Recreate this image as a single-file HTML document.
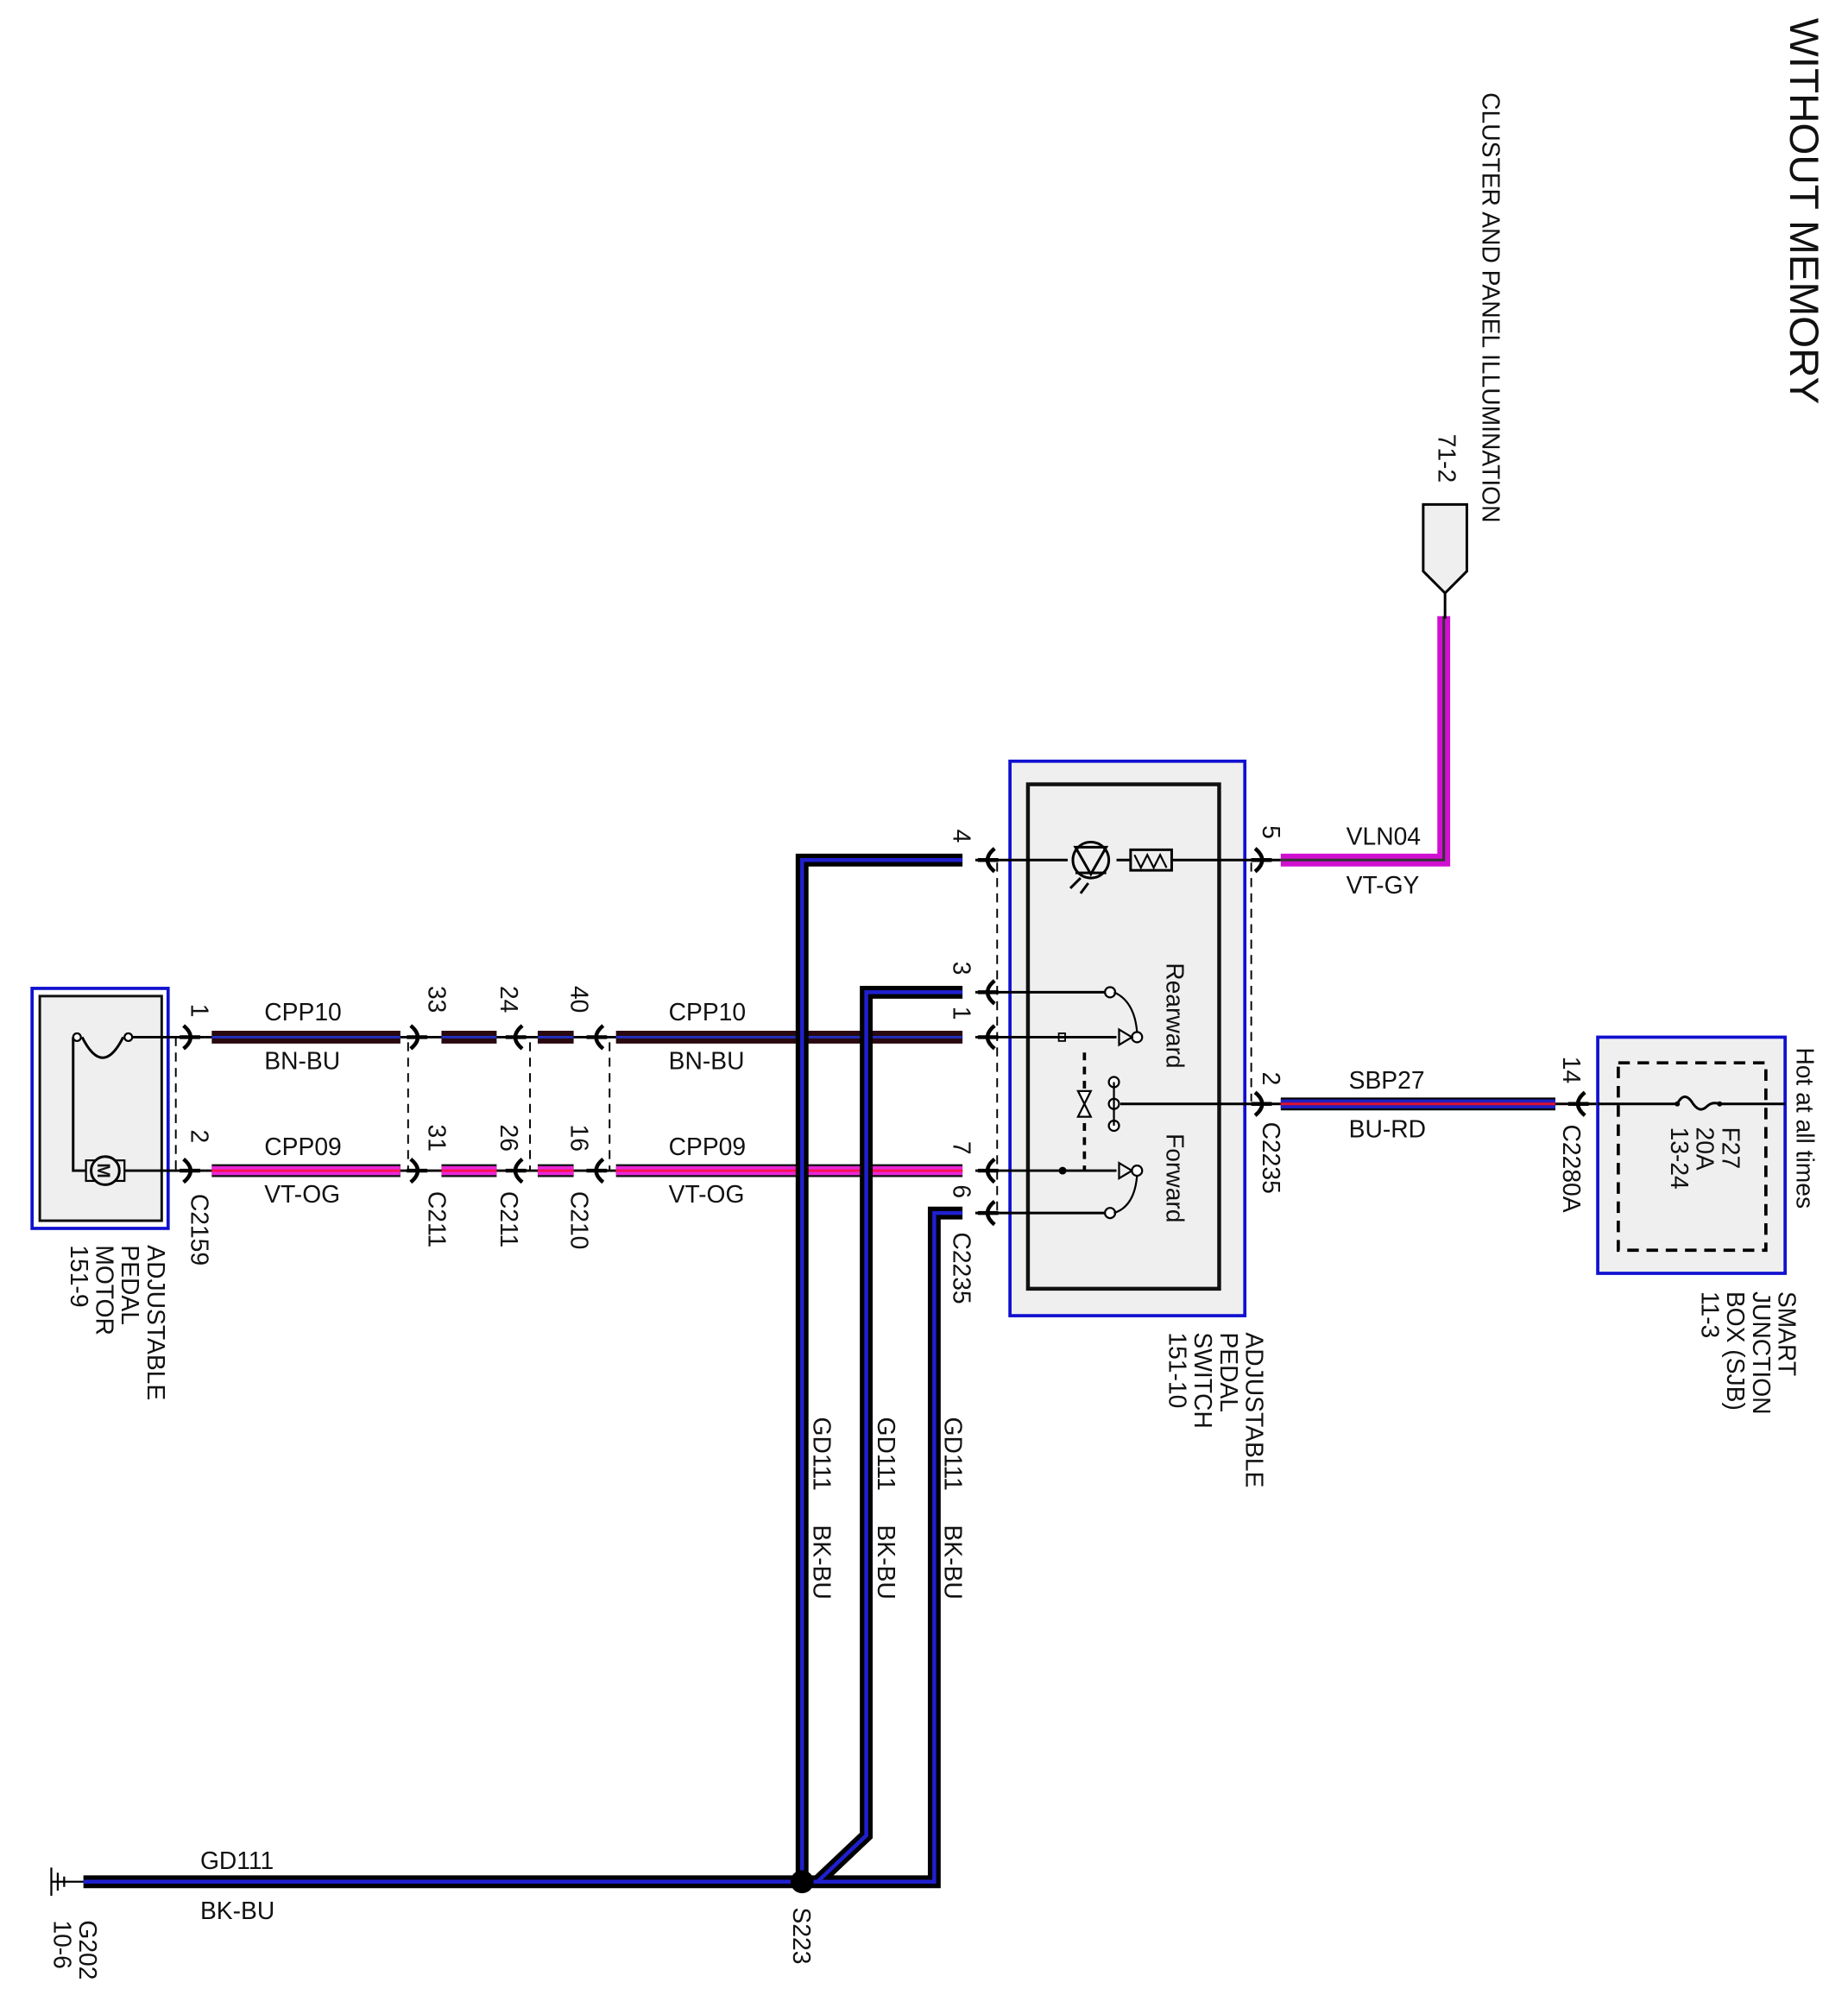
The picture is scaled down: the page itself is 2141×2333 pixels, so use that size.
<!DOCTYPE html>
<html><head><meta charset="utf-8"><style>
html,body{margin:0;padding:0;background:#fff}
svg{display:block}
text{font-family:"Liberation Sans",Arial,sans-serif;fill:#111}
</style></head><body>
<svg width="2141" height="2333" viewBox="0 0 1440 1569" xmlns="http://www.w3.org/2000/svg">
<defs>
<g id="chR"><path d="M-7,-9 Q4,0 -7,9 M-10,0 L6,0" fill="none" stroke="#000" stroke-width="3"/></g>
<g id="chL"><path d="M7,-9 Q-4,0 7,9 M10,0 L-6,0" fill="none" stroke="#000" stroke-width="3"/></g>
</defs>
<rect width="1440" height="1569" fill="#fff"/>

<rect x="25" y="770" width="106" height="187" fill="none" stroke="#1010d0" stroke-width="2.5"/>
<rect x="31" y="776" width="95" height="175" fill="#efefef" stroke="#111" stroke-width="2"/>
<path d="M64,808 Q80,840 96,808" fill="none" stroke="#000" stroke-width="2"/>
<circle cx="60" cy="808" r="3" fill="#fff" stroke="#000" stroke-width="1.5"/>
<circle cx="100" cy="808" r="3" fill="#fff" stroke="#000" stroke-width="1.5"/>
<path d="M57,808 V912 H68 M103,808 H160 M96,912 H160" fill="none" stroke="#000" stroke-width="2"/>
<rect x="67" y="904" width="30" height="16" fill="#efefef" stroke="#000" stroke-width="1.5"/>
<circle cx="82" cy="912" r="11" fill="#efefef" stroke="#000" stroke-width="2"/>
<text transform="translate(76,912) rotate(90)" font-size="14" text-anchor="middle" font-weight="bold">M</text>

<g stroke="#000" stroke-width="1.3" stroke-dasharray="7,5" fill="none">
<line x1="137" y1="808" x2="137" y2="912"/>
<line x1="318" y1="812" x2="318" y2="912"/>
<line x1="413" y1="812" x2="413" y2="912"/>
<line x1="475" y1="812" x2="475" y2="912"/>
<line x1="777" y1="672" x2="777" y2="948"/>
<line x1="975" y1="672" x2="975" y2="858"/>
</g>

<path d="M160,808 H750 M160,912 H750" stroke="#000" stroke-width="2"/>

<g>
<g stroke="#2a0810" stroke-width="10">
<line x1="165" y1="808" x2="312" y2="808"/><line x1="344" y1="808" x2="387" y2="808"/><line x1="419" y1="808" x2="447" y2="808"/><line x1="480" y1="808" x2="750" y2="808"/>
</g>
<g stroke="#2030c0" stroke-width="2">
<line x1="165" y1="808" x2="312" y2="808"/><line x1="344" y1="808" x2="387" y2="808"/><line x1="419" y1="808" x2="447" y2="808"/><line x1="480" y1="808" x2="750" y2="808"/>
</g>
</g>
<g>
<g stroke="#111" stroke-width="10">
<line x1="165" y1="912" x2="312" y2="912"/><line x1="344" y1="912" x2="387" y2="912"/><line x1="419" y1="912" x2="447" y2="912"/><line x1="480" y1="912" x2="750" y2="912"/>
</g>
<g stroke="#e826d8" stroke-width="7">
<line x1="165" y1="912" x2="312" y2="912"/><line x1="344" y1="912" x2="387" y2="912"/><line x1="419" y1="912" x2="447" y2="912"/><line x1="480" y1="912" x2="750" y2="912"/>
</g>
<g stroke="#ff1050" stroke-width="2">
<line x1="165" y1="912" x2="312" y2="912"/><line x1="344" y1="912" x2="387" y2="912"/><line x1="419" y1="912" x2="447" y2="912"/><line x1="480" y1="912" x2="750" y2="912"/>
</g>
</g>

<g fill="none" stroke-linejoin="miter">
<path d="M750,670 H625 V1466 M750,773 H675 V1430 L637,1466 M750,945 H728 V1466 H625 M65,1466 H625" stroke="#000" stroke-width="10"/>
<path d="M750,670 H625 V1466 M750,773 H675 V1430 L637,1466 M750,945 H728 V1466 H625 M65,1466 H625" stroke="#2020d0" stroke-width="3"/>
</g>
<circle cx="625" cy="1466" r="9" fill="#000"/>
<path d="M40,1466 H65 M40,1455 V1477 M45,1459 V1473 M50,1462 V1470" stroke="#000" stroke-width="1.5" fill="none"/>

<use href="#chR" x="150" y="808"/><use href="#chR" x="150" y="912"/>
<use href="#chR" x="327" y="808"/><use href="#chR" x="327" y="912"/>
<use href="#chL" x="400" y="808"/><use href="#chL" x="400" y="912"/>
<use href="#chL" x="463" y="808"/><use href="#chL" x="463" y="912"/>
<use href="#chL" x="768" y="670"/><use href="#chL" x="768" y="773"/><use href="#chL" x="768" y="808"/><use href="#chL" x="768" y="912"/><use href="#chL" x="768" y="945"/>
<use href="#chR" x="985" y="670"/><use href="#chR" x="985" y="860"/>
<use href="#chL" x="1228" y="860"/>

<rect x="787" y="593" width="183" height="432" fill="#efefef" stroke="#1010d0" stroke-width="2.5"/>
<rect x="801" y="611" width="149" height="393" fill="none" stroke="#111" stroke-width="3"/>
<path d="M760,670 H832 M870,670 H880 M914,670 H998 M760,773 H862 M760,808 H870 M760,912 H870 M760,945 H862 M873,860 H998" stroke="#000" stroke-width="2" fill="none"/>
<circle cx="850" cy="670" r="14" fill="none" stroke="#000" stroke-width="2"/>
<path d="M838,660 L850,681 L862,660 Z M838,680 H862" fill="none" stroke="#000" stroke-width="2"/>
<path d="M842,684 L834,692 M848,688 L842,696" stroke="#000" stroke-width="2"/>
<rect x="881" y="662" width="32" height="16" fill="none" stroke="#000" stroke-width="2"/>
<path d="M884,666 L889,676 L894,666 L899,676 L904,666 L909,676" fill="none" stroke="#000" stroke-width="1.5"/>
<circle cx="865" cy="773" r="4" fill="#fff" stroke="#000" stroke-width="1.5"/>
<circle cx="886" cy="808" r="4" fill="#fff" stroke="#000" stroke-width="1.5"/>
<path d="M868,773 Q884,780 886,804" fill="none" stroke="#000" stroke-width="1.5"/>
<path d="M872,802 L882,808 L872,814 Z" fill="none" stroke="#000" stroke-width="1.5"/>
<rect x="825" y="805" width="5" height="6" fill="none" stroke="#000" stroke-width="1.2"/>
<circle cx="868" cy="843" r="4" fill="#fff" stroke="#000" stroke-width="1.5"/>
<circle cx="868" cy="860" r="4" fill="#fff" stroke="#000" stroke-width="1.5"/>
<circle cx="868" cy="877" r="4" fill="#fff" stroke="#000" stroke-width="1.5"/>
<line x1="868" y1="843" x2="868" y2="877" stroke="#000" stroke-width="1.5"/>
<path d="M845,820 V912" stroke="#000" stroke-width="2.5" stroke-dasharray="6,5"/>
<path d="M840,850 L845,860 L850,850 Z M840,870 L845,860 L850,870 Z" fill="#fff" stroke="#000" stroke-width="1.5"/>
<circle cx="828" cy="912" r="3" fill="#000"/>
<path d="M872,906 L882,912 L872,918 Z" fill="none" stroke="#000" stroke-width="1.5"/>
<circle cx="886" cy="912" r="4" fill="#fff" stroke="#000" stroke-width="1.5"/>
<circle cx="865" cy="945" r="4" fill="#fff" stroke="#000" stroke-width="1.5"/>
<path d="M886,916 Q884,940 868,945" fill="none" stroke="#000" stroke-width="1.5"/>
<text transform="translate(909,750) rotate(90)" font-size="19">Rearward</text>
<text transform="translate(909,883) rotate(90)" font-size="19">Forward</text>

<path d="M998,670 H1125 V480" fill="none" stroke="#d010d0" stroke-width="10"/>
<path d="M998,670 H1125 V480" fill="none" stroke="#333" stroke-width="2"/>
<line x1="1126" y1="462" x2="1126" y2="482" stroke="#000" stroke-width="2"/>
<path d="M1109,393 H1143 V445 L1126,462 L1109,445 Z" fill="#efefef" stroke="#000" stroke-width="2"/>

<line x1="998" y1="860" x2="1212" y2="860" stroke="#000" stroke-width="10"/>
<line x1="998" y1="860" x2="1212" y2="860" stroke="#2020c0" stroke-width="7"/>
<line x1="998" y1="860" x2="1212" y2="860" stroke="#e01030" stroke-width="2"/>
<line x1="1212" y1="860" x2="1245" y2="860" stroke="#000" stroke-width="2"/>

<rect x="1245" y="808" width="146" height="184" fill="#efefef" stroke="#1010d0" stroke-width="2.5"/>
<rect x="1261" y="828" width="115" height="146" fill="none" stroke="#000" stroke-width="2.5" stroke-dasharray="9,6"/>
<path d="M1245,860 H1307 M1340,860 H1391" stroke="#000" stroke-width="2"/>
<path d="M1307,860 Q1312,850 1318,858 Q1324,868 1330,862 Q1334,858 1340,860" fill="none" stroke="#000" stroke-width="2"/>
<circle cx="1307" cy="860" r="2" fill="#000"/><circle cx="1340" cy="860" r="2" fill="#000"/>

<g font-size="19">
<text x="206" y="795">CPP10</text><text x="206" y="833">BN-BU</text>
<text x="206" y="900">CPP09</text><text x="206" y="937">VT-OG</text>
<text x="521" y="795">CPP10</text><text x="521" y="833">BN-BU</text>
<text x="521" y="900">CPP09</text><text x="521" y="937">VT-OG</text>
<text x="1049" y="658">VLN04</text><text x="1049" y="696">VT-GY</text>
<text x="1051" y="848">SBP27</text><text x="1051" y="886">BU-RD</text>
<text x="156" y="1456">GD111</text><text x="156" y="1495">BK-BU</text>
</g>

<g font-size="19">
<text transform="translate(1395,14) rotate(90)" font-size="32">WITHOUT MEMORY</text>
<text transform="translate(1155,72) rotate(90)">CLUSTER AND PANEL ILLUMINATION</text>
<text transform="translate(1121,338) rotate(90)">71-2</text>
<text transform="translate(1400,816) rotate(90)">Hot at all times</text>
<text transform="translate(1342,878) rotate(90)"><tspan x="0" dy="0">F27</tspan><tspan x="0" dy="20">20A</tspan><tspan x="0" dy="20">13-24</tspan></text>
<text transform="translate(1386,1006) rotate(90)"><tspan x="0">SMART</tspan><tspan x="0" dy="20">JUNCTION</tspan><tspan x="0" dy="20">BOX (SJB)</tspan><tspan x="0" dy="20">11-3</tspan></text>
<text transform="translate(1218,823) rotate(90)">14</text>
<text transform="translate(1218,876) rotate(90)">C2280A</text>
<text transform="translate(984,643) rotate(90)">5</text>
<text transform="translate(984,835) rotate(90)">2</text>
<text transform="translate(984,874) rotate(90)">C2235</text>
<text transform="translate(971,1038) rotate(90)"><tspan x="0">ADJUSTABLE</tspan><tspan x="0" dy="20">PEDAL</tspan><tspan x="0" dy="20">SWITCH</tspan><tspan x="0" dy="20">151-10</tspan></text>
<text transform="translate(743,646) rotate(90)">4</text>
<text transform="translate(743,749) rotate(90)">3</text>
<text transform="translate(743,784) rotate(90)">1</text>
<text transform="translate(743,889) rotate(90)">7</text>
<text transform="translate(743,923) rotate(90)">6</text>
<text transform="translate(743,960) rotate(90)">C2235</text>
<text transform="translate(445,768) rotate(90)">40</text>
<text transform="translate(445,876) rotate(90)">16</text>
<text transform="translate(445,928) rotate(90)">C210</text>
<text transform="translate(390,768) rotate(90)">24</text>
<text transform="translate(390,876) rotate(90)">26</text>
<text transform="translate(390,928) rotate(90)">C211</text>
<text transform="translate(334,768) rotate(90)">33</text>
<text transform="translate(334,876) rotate(90)">31</text>
<text transform="translate(334,928) rotate(90)">C211</text>
<text transform="translate(149,782) rotate(90)">1</text>
<text transform="translate(149,880) rotate(90)">2</text>
<text transform="translate(149,930) rotate(90)">C2159</text>
<text transform="translate(115,970) rotate(90)"><tspan x="0">ADJUSTABLE</tspan><tspan x="0" dy="20">PEDAL</tspan><tspan x="0" dy="20">MOTOR</tspan><tspan x="0" dy="20">151-9</tspan></text>
<text transform="translate(634,1104) rotate(90)">GD111</text>
<text transform="translate(634,1188) rotate(90)">BK-BU</text>
<text transform="translate(684,1104) rotate(90)">GD111</text>
<text transform="translate(684,1188) rotate(90)">BK-BU</text>
<text transform="translate(736,1104) rotate(90)">GD111</text>
<text transform="translate(736,1188) rotate(90)">BK-BU</text>
<text transform="translate(618,1486) rotate(90)">S223</text>
<text transform="translate(62,1496) rotate(90)"><tspan x="0">G202</tspan><tspan x="0" dy="20">10-6</tspan></text>
</g>
</svg>
</body></html>
